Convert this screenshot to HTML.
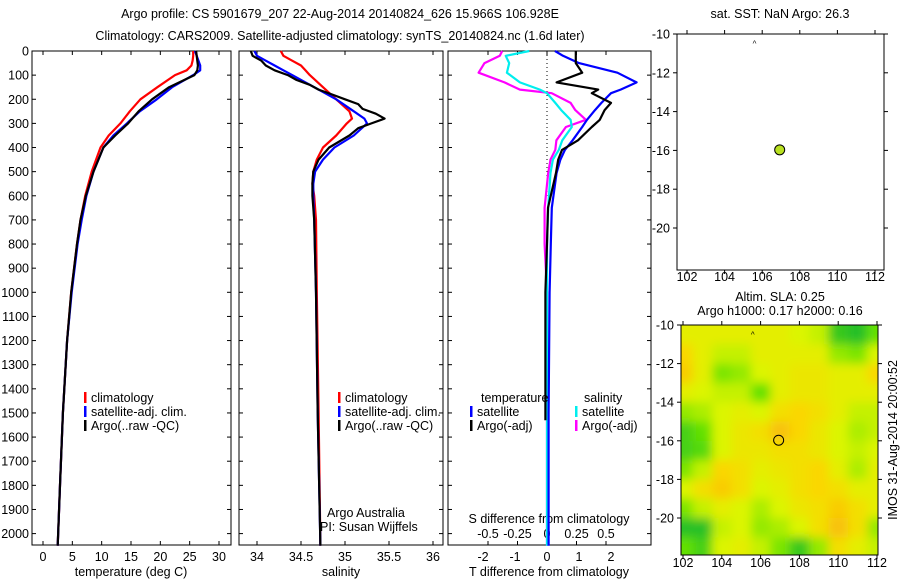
<!DOCTYPE html>
<html><head><meta charset="utf-8"><style>
body{margin:0;background:#fff;}
svg text{font-family:"Liberation Sans",sans-serif;font-size:12.5px;fill:#000;}
</style></head><body>
<svg id="c" width="900" height="580" xmlns="http://www.w3.org/2000/svg">
<defs>
<filter id="bl" x="-5%" y="-5%" width="110%" height="110%"><feGaussianBlur stdDeviation="5"/></filter>
<clipPath id="mapclip"><rect x="681" y="325" width="197" height="230"/></clipPath>
</defs>
<text x="340" y="18" text-anchor="middle">Argo profile: CS 5901679_207 22-Aug-2014 20140824_626 15.966S 106.928E</text>
<text x="340" y="40" text-anchor="middle">Climatology: CARS2009. Satellite-adjusted climatology: synTS_20140824.nc (1.6d later)</text>
<text x="780" y="18" text-anchor="middle">sat. SST: NaN Argo: 26.3</text>
<text x="780" y="301" text-anchor="middle">Altim. SLA: 0.25</text>
<text x="780" y="315" text-anchor="middle">Argo h1000: 0.17 h2000: 0.16</text>
<text x="0" y="0" transform="translate(897,440) rotate(-90)" text-anchor="middle">IMOS 31-Aug-2014 20:00:52</text>
<g id="g"></g>
</svg>
<script>
// ---- data ----
const depthTicks=[0,100,200,300,400,500,600,700,800,900,1000,1100,1200,1300,1400,1500,1600,1700,1800,1900,2000];
const tempTicks=[0,5,10,15,20,25,30];
const salTicks=[34,34.5,35,35.5,36];
const tdTicks=[-2,-1,0,1,2];
const sdTicks=[-0.5,-0.25,0,0.25,0.5];
const sdTickLabels=["-0.5","-0.25","0","0.25","0.5"];
const tDepth=[0,20,40,60,80,100,150,200,250,300,350,400,500,600,700,800,1000,1200,1500,1800,2050];
const tClim=[25.6,25.6,25.5,25.3,24.5,22.5,19.5,16.6,14.8,13.2,11.2,9.8,8.3,7.2,6.4,5.8,4.8,4.1,3.4,2.9,2.5];
const tSat=[25.9,26.2,26.5,26.8,26.8,25.6,22,19.4,16.5,14.3,12,10.3,8.6,7.4,6.6,5.9,4.9,4.1,3.4,2.9,2.5];
const tArgo=[26.1,26.2,26.3,26.4,26.3,25.8,21.5,18.6,16.3,14.5,12.3,10.3,8.6,7.3,6.4,5.8,4.8,4.1,3.4,2.9,2.5];
const sDepth=[0,20,40,60,80,100,150,200,250,280,300,350,400,450,500,550,600,700,1000,1500,2050];
const sClim=[34.27,34.3,34.4,34.5,34.55,34.6,34.75,34.9,35.05,35.08,35.02,34.9,34.75,34.68,34.64,34.63,34.65,34.67,34.68,34.7,34.72];
const sSat=[33.97,34.0,34.1,34.2,34.3,34.4,34.65,34.9,35.1,35.22,35.25,35.1,34.88,34.75,34.66,34.64,34.64,34.65,34.67,34.69,34.72];
const sArgoDepth=[0,20,40,60,80,100,120,140,160,180,200,220,240,260,280,300,320,350,400,450,500,550,600,700,1000,1500,2050];
const sArgo=[33.93,33.95,34.05,34.1,34.2,34.35,34.45,34.6,34.7,34.85,35.0,35.15,35.2,35.35,35.45,35.3,35.15,35.05,34.82,34.7,34.64,34.63,34.63,34.65,34.67,34.69,34.72];
const dDepth=[0,20,50,90,130,160,175,215,245,285,315,370,410,450,505,650,800,1000,1500,2050];
const dTSat=[0.25,0.5,1.0,2.2,2.8,2.3,2.0,1.7,1.5,1.25,1.1,0.8,0.56,0.42,0.3,0.15,0.12,0.08,0.05,0.05];
const dTArgoDepth=[0,20,50,90,130,160,175,215,245,285,315,370,410,450,505,650,800,1000,1530];
const dTArgo=[0.9,0.9,0.9,1.1,0.3,1.6,1.4,2.0,1.8,1.65,1.4,0.97,0.47,0.35,0.28,0.03,0.0,-0.05,-0.05];
const dSSat=[-0.15,-0.35,-0.32,-0.34,-0.23,-0.06,0.0,0.07,0.12,0.2,0.21,0.13,0.1,0.05,0.03,0.01,0,0,0,0];
const dSArgo=[-0.38,-0.4,-0.53,-0.58,-0.36,-0.23,0.04,0.2,0.24,0.33,0.16,0.08,0.07,0.03,0.01,-0.02,-0.02,0,0,0];
const lonTicks=[102,104,106,108,110,112];
const latTicks=[-10,-12,-14,-16,-18,-20];
const floatLon=106.93, floatLat=-15.97;
const gridLons=[102,103,104,105,106,107,108,109,110,111,112];
const gridLats=[-10.5,-11.5,-12.5,-13.5,-14.5,-15.5,-16.5,-17.5,-18.5,-19.5,-20.5,-21.5];
const sla=[
[0.6,0.6,0.6,0.6,0.6,0.6,0.55,0.5,0.15,0.1,0.3],
[0.75,0.6,0.5,0.5,0.6,0.6,0.6,0.6,0.4,0.35,0.55],
[0.8,0.6,0.35,0.4,0.55,0.6,0.65,0.65,0.6,0.6,0.75],
[0.6,0.55,0.5,0.5,0.3,0.6,0.65,0.65,0.6,0.6,0.6],
[0.4,0.45,0.55,0.6,0.55,0.7,0.75,0.7,0.6,0.5,0.5],
[0.2,0.3,0.55,0.65,0.7,0.85,0.75,0.65,0.55,0.45,0.5],
[0.2,0.25,0.55,0.65,0.65,0.7,0.7,0.65,0.55,0.5,0.55],
[0.35,0.5,0.75,0.7,0.6,0.65,0.7,0.75,0.6,0.45,0.6],
[0.55,0.7,0.8,0.7,0.55,0.6,0.7,0.75,0.7,0.6,0.6],
[0.35,0.5,0.6,0.55,0.45,0.55,0.65,0.7,0.8,0.7,0.6],
[0.1,0.1,0.5,0.55,0.4,0.45,0.55,0.7,0.85,0.7,0.4],
[0.3,0.2,0.55,0.6,0.5,0.35,0.15,0.4,0.7,0.6,0.5]];

// ---- drawing ----
const NS="http://www.w3.org/2000/svg";
const G=document.getElementById('g');
function el(t,a,p){const e=document.createElementNS(NS,t);for(const k in a)e.setAttribute(k,a[k]);(p||G).appendChild(e);return e;}
function txt(x,y,s,anc,p){const e=el('text',{x:x,y:y,'text-anchor':anc||'middle'},p);e.textContent=s;return e;}
const TOP=51,BOT=545;
const yD=d=>TOP+d*0.2413;
function lin(v0,p0,v1,p1){return v=>p0+(v-v0)*(p1-p0)/(v1-v0);}
const xT=lin(0,43,30,219), xS=lin(34,257,36,433), xTD=lin(0,547,2,611), xSD=lin(0,547,0.5,606);
const panels=[[32,231],[239,443],[448,651]];
panels.forEach((p,i)=>{
  const r=el('rect',{x:p[0],y:TOP,width:p[1]-p[0],height:BOT-TOP,fill:'none',stroke:'#000','stroke-width':1});
  
  
  depthTicks.forEach(d=>{
    el('line',{x1:p[0],x2:p[0]+4,y1:yD(d),y2:yD(d),stroke:'#000'});
    el('line',{x1:p[1]-4,x2:p[1],y1:yD(d),y2:yD(d),stroke:'#000'});
  });
});
depthTicks.forEach(d=>{const t=txt(29,yD(d)+4.5,String(d),'end');
  
  });
function xticks(vals,labels,f,yLab,top,bot,marks){vals.forEach((v,i)=>{const x=f(v);
  if(marks)el('line',{x1:x,x2:x,y1:bot-4,y2:bot,stroke:'#000'});
  if(top)el('line',{x1:x,x2:x,y1:TOP,y2:TOP+4,stroke:'#000'});
  const t=txt(x,yLab,labels[i]);
  
  });}
xticks(tempTicks,tempTicks.map(String),xT,561,true,BOT,true);
xticks(salTicks,salTicks.map(String),xS,561,true,BOT,true);
xticks(tdTicks,tdTicks.map(String),xTD,561,false,BOT,false);
xticks(sdTicks,sdTickLabels,xSD,538,true,BOT,true);
[[131,'temperature (deg C)','x-axis-title-temperature'],[341,'salinity','x-axis-title-salinity'],[549,'T difference from climatology','x-axis-title-tdiff']].forEach(a=>{
  const t=txt(a[0],576,a[1]);});
{const t=txt(549,523,'S difference from climatology');}
el('line',{x1:xTD(0),x2:xTD(0),y1:TOP,y2:yD(600),stroke:'#000','stroke-dasharray':'1,3'});
function series(depths,vals,f,color,name,w){
  const pts=depths.map((d,i)=>f(vals[i]).toFixed(1)+','+yD(d).toFixed(1)).join(' ');
  const l=el('polyline',{points:pts,fill:'none',stroke:color,'stroke-width':w||2.2,'stroke-linejoin':'round'});
  
  
}
series(tDepth,tClim,xT,'#f00','temp-climatology-line');
series(tDepth,tSat,xT,'#00f','temp-satellite-line');
series(tDepth,tArgo,xT,'#000','temp-argo-line');
series(sDepth,sClim,xS,'#f00','sal-climatology-line');
series(sDepth,sSat,xS,'#00f','sal-satellite-line');
series(sArgoDepth,sArgo,xS,'#000','sal-argo-line');
series(dDepth,dSArgo,xSD,'#f0f','sdiff-argo-line');
series(dDepth,dSSat,xSD,'#0ee','sdiff-satellite-line');
series(dDepth,dTSat,xTD,'#00f','tdiff-satellite-line');
series(dTArgoDepth,dTArgo,xTD,'#000','tdiff-argo-line');
function leg(x,y,c,s){el('rect',{x:x,y:y-10,width:2.5,height:11,fill:c});const t=txt(x+7,y,s,'start');
  }
[[84,'#f00','climatology'],[84,'#00f','satellite-adj. clim.'],[84,'#000','Argo(..raw -QC)']].forEach((a,i)=>leg(a[0],402+i*14,a[1],a[2]));
[[338,'#f00','climatology'],[338,'#00f','satellite-adj. clim.'],[338,'#000','Argo(..raw -QC)']].forEach((a,i)=>leg(a[0],402+i*14,a[1],a[2]));
txt(481,402,'temperature','start');txt(584,402,'salinity','start');
leg(470,416,'#00f','satellite');leg(470,430,'#000','Argo(-adj)');
leg(575,416,'#0ee','satellite');leg(575,430,'#f0f','Argo(-adj)');
txt(327,517,'Argo Australia','start');txt(320,531,'PI: Susan Wijffels','start');
function mapAxes(x0,x1,y0,y1,xl,xr,yt,ybot,labY,name){
  const fx=lin(102,xl,112,xr),fy=lin(-10,yt,-20,ybot);
  const r=el('rect',{x:x0,y:y0,width:x1-x0,height:y1-y0,fill:'none',stroke:'#000'});
  
  lonTicks.forEach(v=>{el('line',{x1:fx(v),x2:fx(v),y1:y1,y2:y1+4,stroke:'#000'});el('line',{x1:fx(v),x2:fx(v),y1:y0-4,y2:y0,stroke:'#000'});
    const t=txt(fx(v),labY,String(v));});
  latTicks.forEach(v=>{el('line',{x1:x0-4,x2:x0,y1:fy(v),y2:fy(v),stroke:'#000'});el('line',{x1:x1,x2:x1+4,y1:fy(v),y2:fy(v),stroke:'#000'});
    const t=txt(x0-7,fy(v)+4.5,String(v),'end');});
  return [fx,fy];
}
function col(v){const st=[[0,[10,175,60]],[0.3,[100,225,0]],[0.55,[220,245,0]],[0.75,[250,215,0]],[1,[245,160,30]]];
  for(let i=1;i<st.length;i++){if(v<=st[i][0]){const a=st[i-1],b=st[i],t=(v-a[0])/(b[0]-a[0]);
    return 'rgb('+a[1].map((c,k)=>Math.round(c+(b[1][k]-c)*t)).join(',')+')';}}return 'rgb(245,160,30)';}
const fx2=lin(102,683,112,877),fy2=lin(-10,325,-20,518);
const hg=el('g',{'clip-path':'url(#mapclip)'});
const hb=el('g',{filter:'url(#bl)'},hg);
el('rect',{x:660,y:300,width:240,height:280,fill:col(0.55)},hb);
sla.forEach((row,j)=>row.forEach((v,i)=>{
  const w=fx2(1)-fx2(0),h=fy2(-1)-fy2(0);
  const c=el('rect',{x:fx2(gridLons[i])-w/2-(i==0?30:0),y:fy2(gridLats[j])-h/2-(j==0?30:0),width:w+1+(i==0||i==10?30:0),height:h+1+(j==0||j==11?30:0),fill:col(v)},hb);
  
  
}));
const m2=mapAxes(681,878,325,555,683,877,325,518,567,'sla-map');
const ring=el('circle',{cx:m2[0](floatLon),cy:m2[1](floatLat),r:5,fill:'none',stroke:'#000'});

el('text',{x:m2[0](105.6)-2,y:m2[1](-10.5)+3,style:'font-size:8px'}).textContent='^';
const m1=mapAxes(677,884,34,270,687,875,34,228,281,'sst-map');
const dot=el('circle',{cx:m1[0](floatLon),cy:m1[1](floatLat),r:5,fill:'#b8e020',stroke:'#000'});

el('text',{x:m1[0](105.6)-2,y:m1[1](-10.5)+3,style:'font-size:8px'}).textContent='^';
</script>
</body></html>
